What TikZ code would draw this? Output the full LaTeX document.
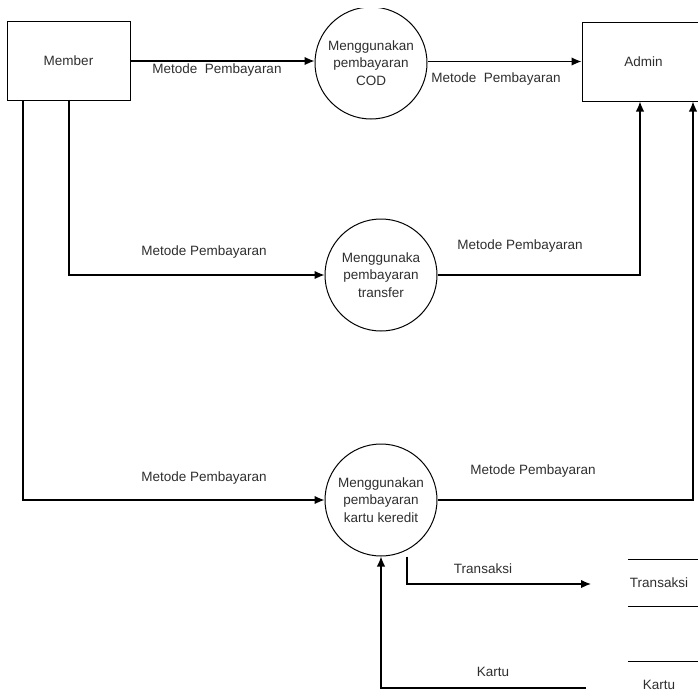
\documentclass[tikz,border=0pt]{standalone}
\usepackage{fontspec}
\setmainfont{Liberation Sans}
\usetikzlibrary{arrows.meta}
\begin{document}
\begin{tikzpicture}[x=1pt,y=-1pt,
  txt/.style={font=\fontsize{13.5}{17.5}\selectfont, text=black!82},
  entity/.style={draw, line width=1pt, minimum width=123pt, minimum height=79pt, inner sep=0pt, txt},
  process/.style={draw, circle, line width=1pt, minimum size=112pt, inner sep=0pt, align=center, txt},
  store/.style={inner sep=0pt, minimum width=62pt, minimum height=46pt, txt,
    append after command={(\tikzlastnode.north west) edge[line width=1pt] ([xshift=14pt]\tikzlastnode.north east)
                          (\tikzlastnode.south west) edge[line width=1pt] ([xshift=14pt]\tikzlastnode.south east)}},
  flow/.style={line width=1.3pt, -{Latex[length=10pt,width=8.5pt]}},
  lbl/.style={txt, inner sep=0pt}]
\useasboundingbox (0,0) rectangle (698,699);
\clip (0,0) rectangle (698,699);

% external entities
\node[entity] (member) at (68.5,61) {Member};
\node[entity] (admin) at (643.5,61.5) {Admin};

% processes (the COD bubble is cut flat at its top)
\begin{scope}
  \clip (300,8) rectangle (450,140);
  \node[process] (cod) at (371,63) {Menggunakan\\pembayaran\\COD};
\end{scope}
\node[process] (trf) at (381,275) {Menggunaka\\pembayaran\\transfer};
\node[process] (kk) at (381,500) {Menggunakan\\pembayaran\\kartu keredit};

% data stores
\node[store] (tstore) at (659,583) {Transaksi};
\node[store] (kstore) at (659,685) {Kartu};

% free ends of the store flows
\coordinate (tend) at (591,584);
\coordinate (kstart) at (586,688);

% flows: COD
\draw[flow] (member.east) -- (member.east -| cod.west);
\draw[flow] (cod.east |- admin.west) -- (admin.west);

% flows: transfer
\draw[flow] ([xshift=0.5pt]member.south) |- (trf.west);
\draw[flow] (trf.east) -| ([xshift=-3.5pt]admin.south);

% flows: credit card
\draw[flow] ([xshift=-45.5pt]member.south) |- (kk.west);
\draw[flow] (kk.east) -| ([xshift=49.5pt]admin.south);
\draw[flow] ([xshift=26pt]kk.south) |- (tend);
\draw[flow] (kstart) -| (kk.south);

% flow labels
\node[lbl] at (217,70) {Metode\ \ Pembayaran};
\node[lbl] at (496,79) {Metode\ \ Pembayaran};
\node[lbl] at (204,252) {Metode Pembayaran};
\node[lbl] at (520,246) {Metode Pembayaran};
\node[lbl] at (204,478) {Metode Pembayaran};
\node[lbl] at (533,471) {Metode Pembayaran};
\node[lbl] at (483,569) {Transaksi};
\node[lbl] at (493,672) {Kartu};
\end{tikzpicture}
\end{document}
